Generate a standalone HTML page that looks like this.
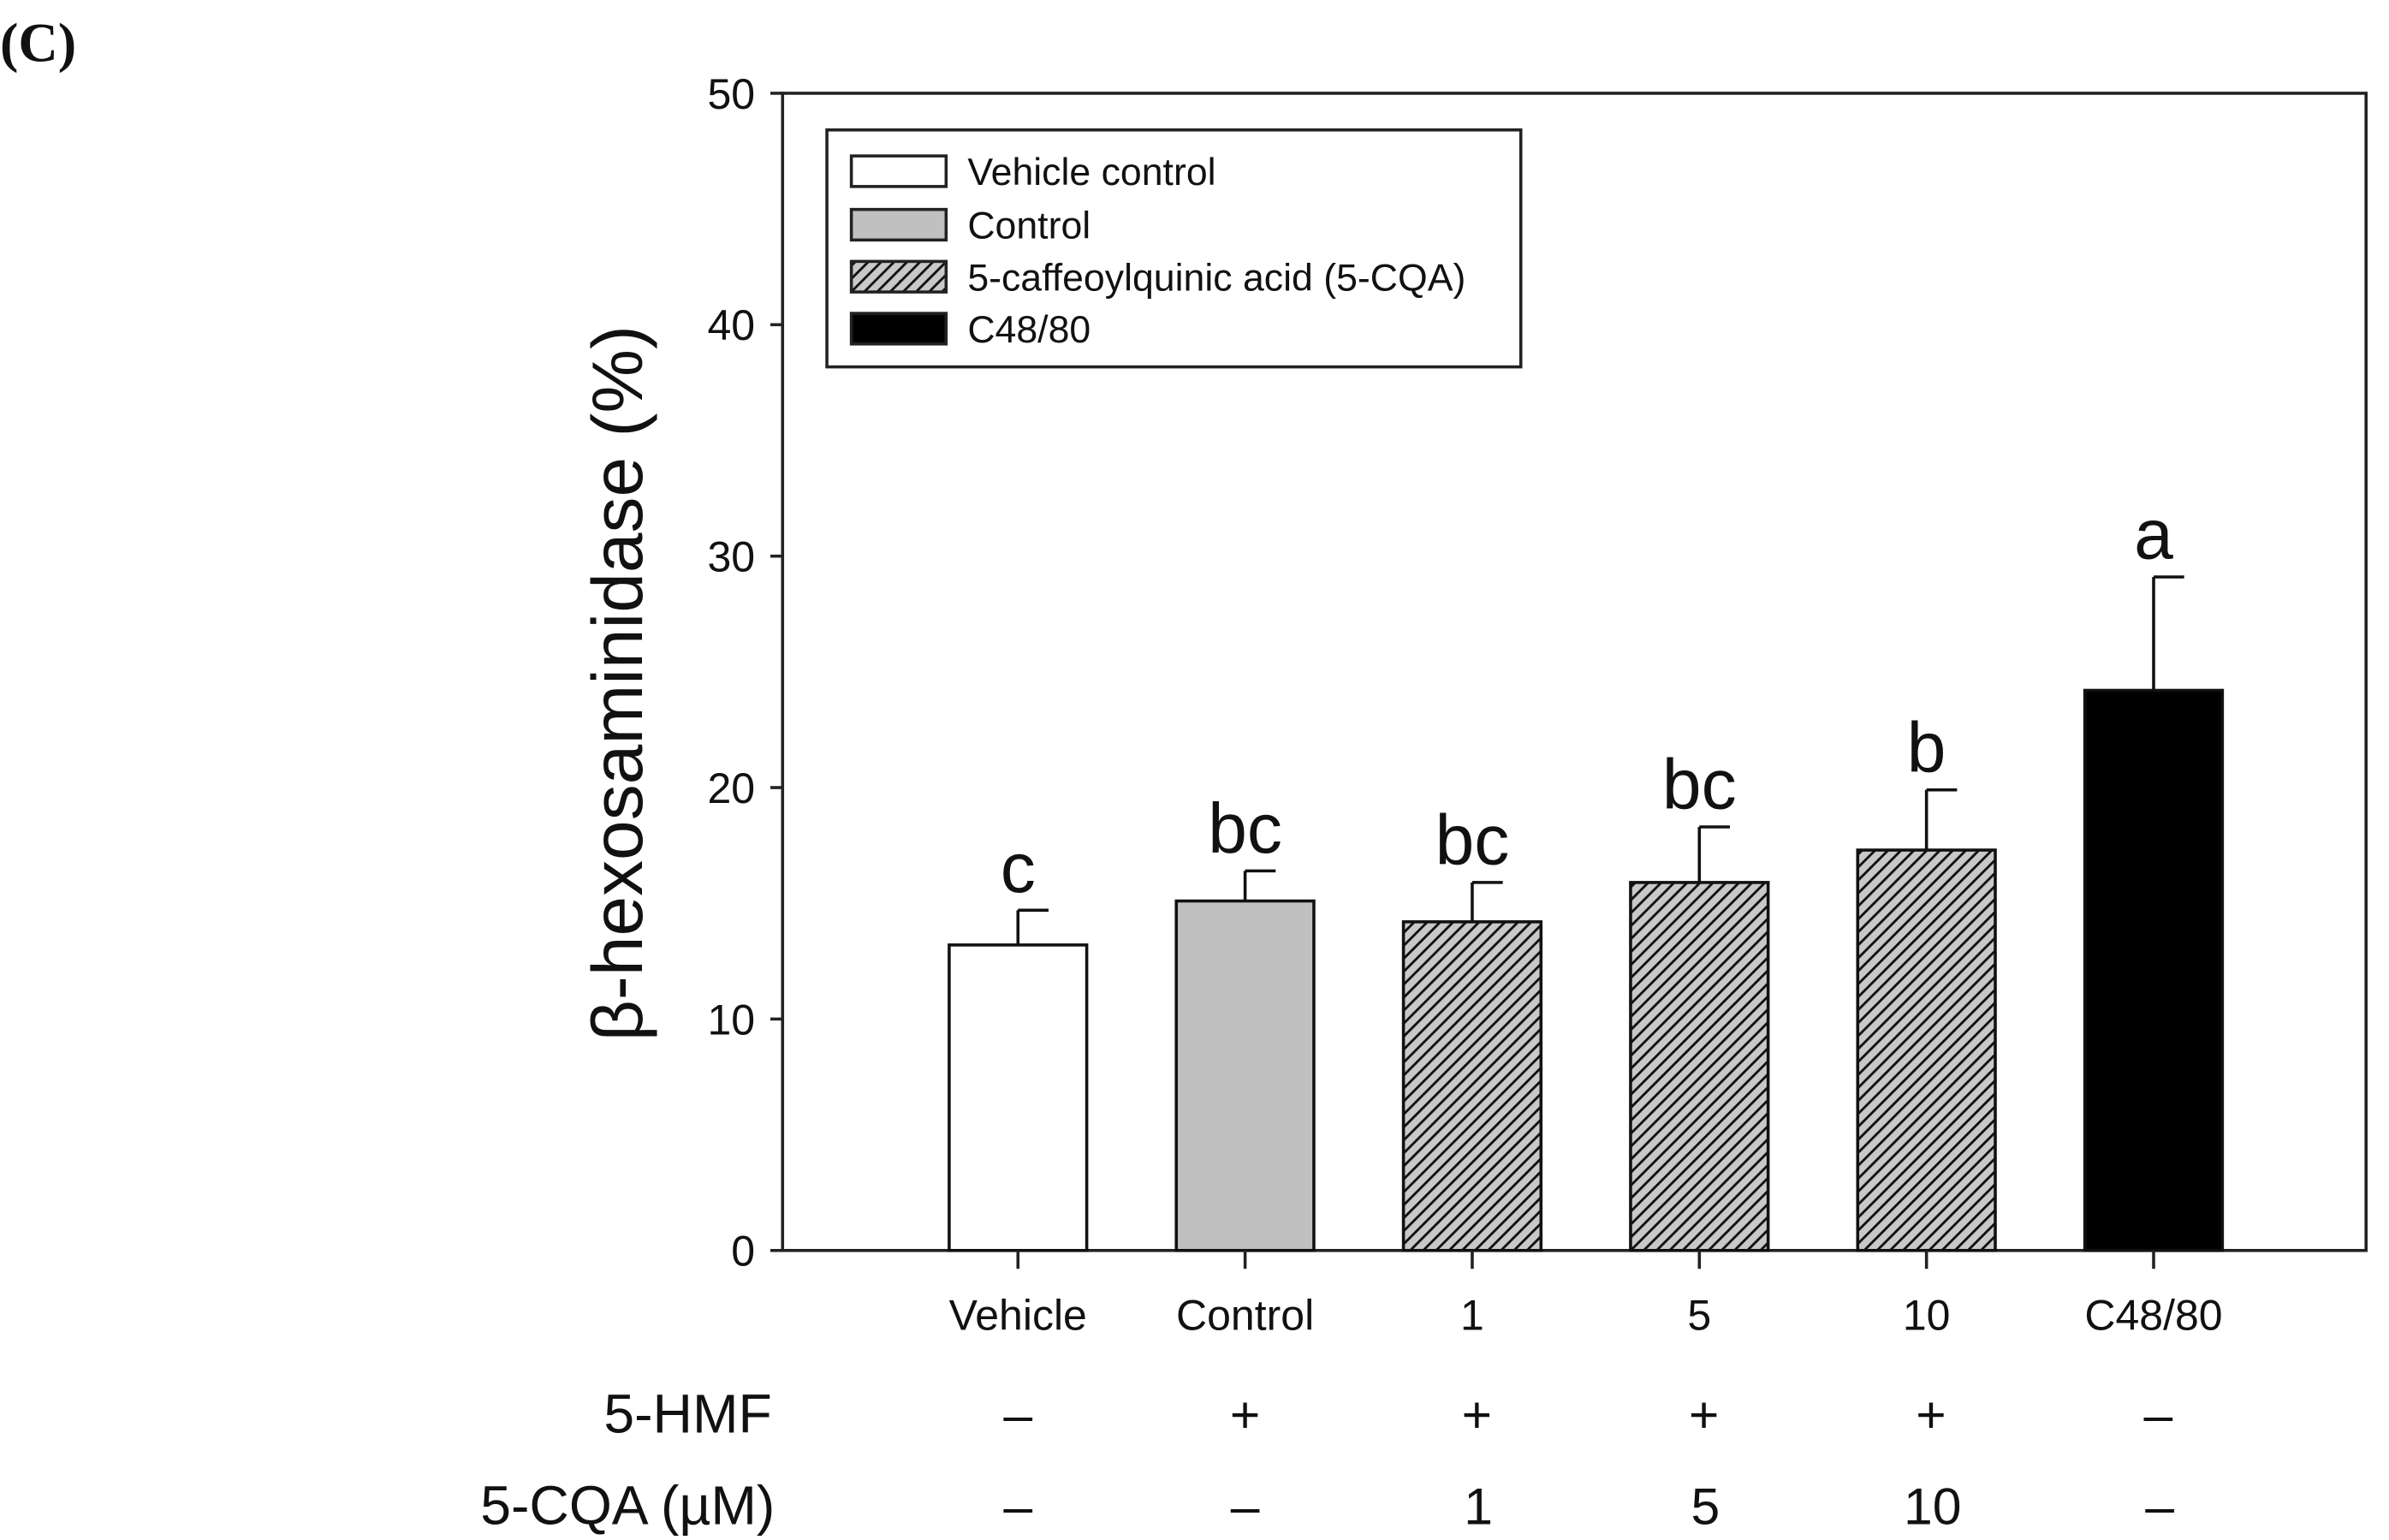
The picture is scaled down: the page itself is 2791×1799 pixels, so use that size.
<!DOCTYPE html>
<html><head><meta charset="utf-8"><style>
html,body{margin:0;padding:0;background:#fff;}
svg{display:block;}
text{font-family:"Liberation Sans",Arial,sans-serif;fill:#111;}
</style></head><body>
<svg id="chart" width="2791" height="1799" viewBox="0 0 1563 1007.4" preserveAspectRatio="none" xmlns="http://www.w3.org/2000/svg">
<defs>
<pattern id="hatch" patternUnits="userSpaceOnUse" width="6" height="6" patternTransform="rotate(45)">
<rect width="6" height="6" fill="#c8c8c8"/>
<line x1="0" y1="0" x2="0" y2="6" stroke="#111" stroke-width="3.2"/>
</pattern>
</defs>
<text x="0" y="40" style="font-family:'Liberation Serif',serif;font-size:36px;font-weight:bold;">(C)</text>
<g id="plot"></g>
</svg>
<script>
const categories = ["Vehicle","Control","1","5","10","C48/80"];
const values = [13.2, 15.1, 14.2, 15.9, 17.3, 24.2];
const errors = [1.5, 1.3, 1.7, 2.4, 2.6, 4.9];
const letters = ["c","bc","bc","bc","b","a"];
const fills = ["#fff","#c0c0c0","url(#hatch)","url(#hatch)","url(#hatch)","#000"];
const hmfRow = ["–","+","+","+","+","–"];
const cqaRow = ["–","–","1","5","10","–"];
const yTicks = [0,10,20,30,40,50];
const legendLabels = ["Vehicle control","Control","5-caffeoylquinic acid (5-CQA)","C48/80"];
const legendFills = ["#fff","#c0c0c0","url(#hatch)","#000"];

const NS="http://www.w3.org/2000/svg";
const g=document.getElementById('plot');
const L=512,R=1548,T=61,B=818,ymax=50;
const y=v=>B-(v/ymax)*(B-T);
const x0=666,step=148.6,bw=90;
const xc=i=>x0+i*step;
function mk(tag,attrs,parent){const e=document.createElementNS(NS,tag);for(const k in attrs)e.setAttribute(k,attrs[k]);(parent||g).appendChild(e);return e;}
function txt(s,attrs){const e=mk('text',attrs);e.textContent=s;return e;}

let fr=mk('rect',{x:L,y:T,width:R-L,height:B-T,fill:'none',stroke:'#222','stroke-width':2});



yTicks.forEach(t=>{
  let l=mk('line',{x1:L-8,x2:L,y1:y(t),y2:y(t),stroke:'#222','stroke-width':2});
  
  
  let tl=txt(String(t),{x:L-18,y:y(t)+10,'text-anchor':'end','font-size':28});
  
  
});

categories.forEach((c,i)=>{
  const cx=xc(i),top=y(values[i]);
  let b=mk('rect',{x:cx-bw/2,y:top,width:bw,height:B-top,fill:fills[i],stroke:'#111','stroke-width':2});
  
  
  const et=y(values[i]+errors[i]);
  let e1=mk('line',{x1:cx,x2:cx,y1:top,y2:et,stroke:'#111','stroke-width':2});
  
  
  let e2=mk('line',{x1:cx,x2:cx+20,y1:et,y2:et,stroke:'#111','stroke-width':2});
  
  
  let lt=txt(letters[i],{x:cx,y:et-12,'text-anchor':'middle','font-size':46});
  
  
  let tk=mk('line',{x1:cx,x2:cx,y1:B,y2:B+12,stroke:'#222','stroke-width':2});
  
  
  let cl=txt(c,{x:cx,y:870,'text-anchor':'middle','font-size':28});
  
  
  let h=txt(hmfRow[i],{x:cx+(i>=2?3:0),y:937,'text-anchor':'middle','font-size':34});
  
  
  let q=txt(cqaRow[i],{x:cx+(i>=2?4:0),y:997,'text-anchor':'middle','font-size':34});
  
  
});

let r1=txt('5-HMF',{x:505,y:937,'text-anchor':'end','font-size':36});


let r2=txt('5-CQA (µM)',{x:507,y:997,'text-anchor':'end','font-size':36});



let yl=txt('β-hexosaminidase (%)',{x:0,y:0,'text-anchor':'middle','font-size':47,transform:'translate(420,447) rotate(-90)'});



let lb=mk('rect',{x:541,y:85,width:454,height:155,fill:'#fff',stroke:'#222','stroke-width':2});


const ly=[112,147,181,215];
legendLabels.forEach((s,i)=>{
  let sw=mk('rect',{x:557,y:ly[i]-10,width:62,height:20,fill:legendFills[i],stroke:'#222','stroke-width':2});
  
  
  let t=txt(s,{x:633,y:ly[i]+9,'font-size':25});
  
  
});
</script>
</body></html>
